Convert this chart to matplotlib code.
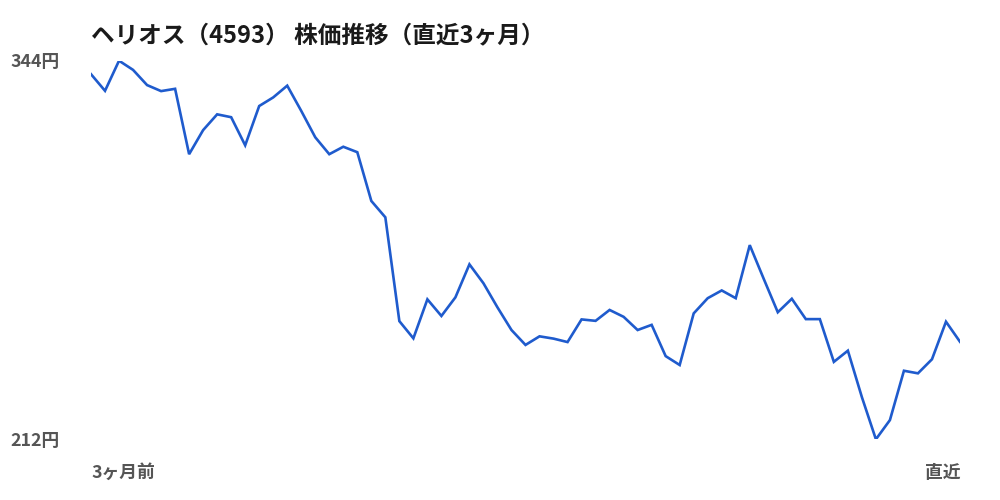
import matplotlib
matplotlib.use("Agg")
import matplotlib.pyplot as plt

title = "ヘリオス（4593） 株価推移（直近3ヶ月）"
y_max_label = "344円"
y_min_label = "212円"
x_start_label = "3ヶ月前"
x_end_label = "直近"
y_min = 212
y_max = 344

prices = [
    339.3, 333.5, 344.0, 340.8, 335.5, 333.4, 334.2, 311.4, 319.8, 325.3,
    324.3, 314.5, 328.2, 331.2, 335.3, 326.5, 317.3, 311.4, 314.0, 312.1,
    295.1, 289.4, 253.2, 247.2, 260.8, 255.0, 261.5, 273.0, 266.4, 258.0,
    250.1, 244.9, 247.9, 247.1, 245.9, 253.8, 253.3, 257.1, 254.7, 250.1,
    251.9, 241.0, 237.9, 255.9, 261.2, 263.9, 261.2, 279.7, 267.9, 256.3,
    261.0, 253.9, 253.9, 239.0, 242.9, 226.7, 212.0, 218.7, 235.9, 235.0,
    239.9, 253.0, 246.0,
]

plt.rcParams['font.family'] = ['Noto Sans CJK JP', 'DejaVu Sans']

fig = plt.figure(figsize=(10, 5), dpi=100)
ax = fig.add_axes([0.091, 1 - 439.3 / 500, 0.869, (439.3 - 60.7) / 500])
x = list(range(len(prices)))
ax.plot(x, prices, color='#1f5bcd', linewidth=1.9, solid_joinstyle='miter')
ax.set_xlim(0, len(prices) - 1)
ax.set_ylim(y_min, y_max)
ax.axis('off')

fig.text(0.091, 1 - 35 / 500, title, fontsize=17, fontweight='bold',
         color='#1a1a1a', ha='left', va='center')
fig.text(0.010, 1 - 62 / 500, y_max_label, fontsize=12.8, fontweight='bold',
         color='#555555', ha='left', va='center')
fig.text(0.010, 1 - 441 / 500, y_min_label, fontsize=12.8, fontweight='bold',
         color='#555555', ha='left', va='center')
fig.text(0.091, 1 - 473 / 500, x_start_label, fontsize=12.8, fontweight='bold',
         color='#555555', ha='left', va='center')
fig.text(0.960, 1 - 473 / 500, x_end_label, fontsize=12.8, fontweight='bold',
         color='#555555', ha='right', va='center')

fig.savefig('out.png', dpi=100, facecolor='white')
